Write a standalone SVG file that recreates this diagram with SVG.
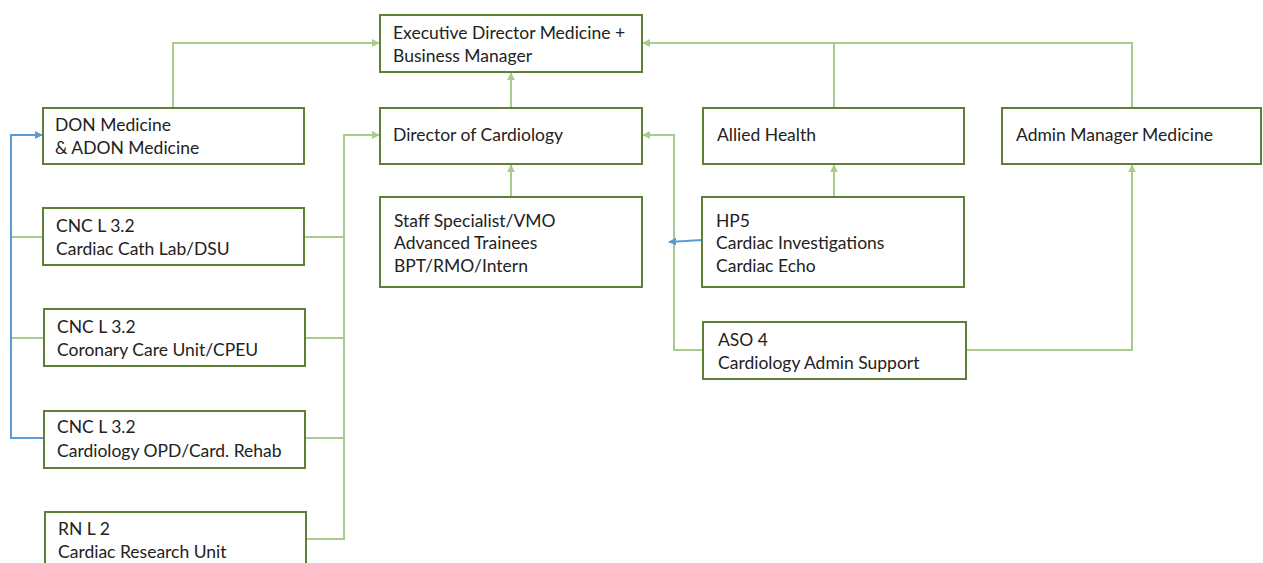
<svg xmlns="http://www.w3.org/2000/svg" width="1263" height="563" viewBox="0 0 1263 563">
<defs>
<marker id="ag" viewBox="0 0 10 10" refX="9" refY="5" markerWidth="4" markerHeight="4" orient="auto"><path d="M0,0 L10,5 L0,10 z" fill="#a9cc8e"/></marker>
<marker id="ab" viewBox="0 0 10 10" refX="9" refY="5" markerWidth="4" markerHeight="4" orient="auto"><path d="M0,0 L10,5 L0,10 z" fill="#5b9bd5"/></marker>
<style>
.box{fill:#fff;stroke:#5e7f35;stroke-width:2}
.t{font-family:Lato,"Liberation Sans",sans-serif;font-size:17.5px;fill:#222}
.g{fill:none;stroke:#a9cc8e;stroke-width:2}
.b{fill:none;stroke:#5b9bd5;stroke-width:2}
</style>
</defs>
<rect width="1263" height="563" fill="#fff"/>
<g id="connectors">
<path class="g" d="M173,108 V43 H379" marker-end="url(#ag)"/>
<path class="g" d="M1132,108 V43 H643" marker-end="url(#ag)"/>
<path class="g" d="M834,108 V43"/>
<path class="g" d="M511,108 V73" marker-end="url(#ag)"/>
<path class="g" d="M511,197 V165" marker-end="url(#ag)"/>
<path class="g" d="M834,197 V165" marker-end="url(#ag)"/>
<path class="g" d="M966,350 H1132 V165" marker-end="url(#ag)"/>
<path class="g" d="M703,350 H674 V135 H643" marker-end="url(#ag)"/>
<path class="g" d="M304,539 H344 V135 H379" marker-end="url(#ag)"/>
<path class="g" d="M304,237 H344 M304,338 H344 M304,438 H344"/>
<path class="g" d="M11,237 H43 M11,338 H43"/>
<path class="b" d="M43,438 H11 V135 H42" marker-end="url(#ab)"/>
<path class="b" d="M702,240 L669,242" marker-end="url(#ab)"/>
</g>
<g id="exec"><rect class="box" x="380" y="15" width="262" height="57"/><text class="t" x="393" y="39">Executive Director Medicine +</text><text class="t" x="393" y="62">Business Manager</text></g>
<g id="don"><rect class="box" x="43" y="108" width="261" height="56"/><text class="t" x="55" y="131">DON Medicine</text><text class="t" x="55" y="154">&amp; ADON Medicine</text></g>
<g id="director"><rect class="box" x="380" y="108" width="262" height="56"/><text class="t" x="393" y="141">Director of Cardiology</text></g>
<g id="allied"><rect class="box" x="703" y="108" width="261" height="56"/><text class="t" x="717" y="141">Allied Health</text></g>
<g id="admin"><rect class="box" x="1002" y="108" width="259" height="56"/><text class="t" x="1016" y="141">Admin Manager Medicine</text></g>
<g id="cnc1"><rect class="box" x="43" y="208" width="261" height="57"/><text class="t" x="56" y="232">CNC L 3.2</text><text class="t" x="56" y="255">Cardiac Cath Lab/DSU</text></g>
<g id="cnc2"><rect class="box" x="44" y="309" width="261" height="57"/><text class="t" x="57" y="333">CNC L 3.2</text><text class="t" x="57" y="356">Coronary Care Unit/CPEU</text></g>
<g id="cnc3"><rect class="box" x="44" y="411" width="261" height="57"/><text class="t" x="57" y="433">CNC L 3.2</text><text class="t" x="57" y="457">Cardiology OPD/Card. Rehab</text></g>
<g id="rn"><rect class="box" x="45" y="512" width="261" height="60"/><text class="t" x="58" y="535">RN L 2</text><text class="t" x="58" y="558">Cardiac Research Unit</text></g>
<g id="staff"><rect class="box" x="380" y="197" width="262" height="90"/><text class="t" x="394" y="227">Staff Specialist/VMO</text><text class="t" x="394" y="249">Advanced Trainees</text><text class="t" x="394" y="272">BPT/RMO/Intern</text></g>
<g id="hp5"><rect class="box" x="702" y="197" width="262" height="90"/><text class="t" x="716" y="227">HP5</text><text class="t" x="716" y="249">Cardiac Investigations</text><text class="t" x="716" y="272">Cardiac Echo</text></g>
<g id="aso"><rect class="box" x="703" y="322" width="263" height="57"/><text class="t" x="718" y="346">ASO 4</text><text class="t" x="718" y="369">Cardiology Admin Support</text></g>
</svg>
